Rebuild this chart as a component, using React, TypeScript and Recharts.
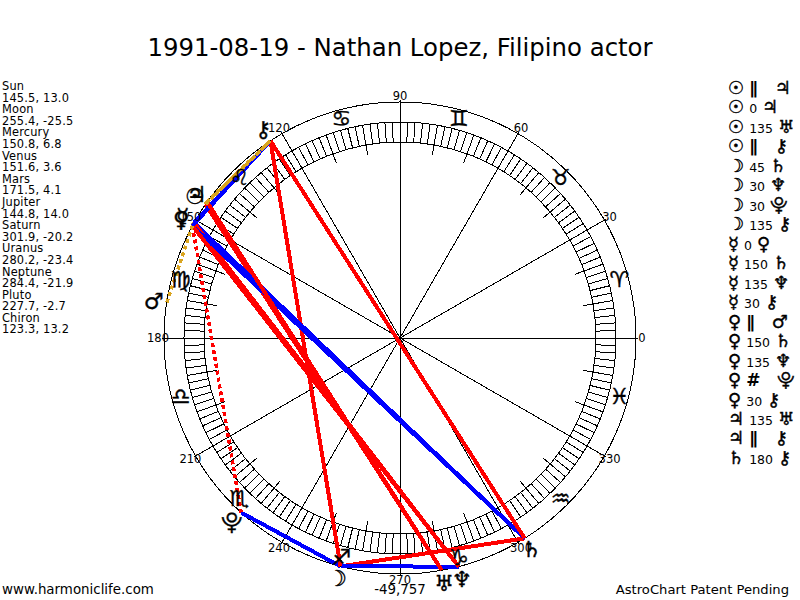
import { ScatterChart, Scatter, XAxis, YAxis, ReferenceLine, ReferenceDot } from 'recharts';

const FONT = '"DejaVu Sans", sans-serif';

const planetNames = ['Sun', 'Moon', 'Mercury', 'Venus', 'Mars', 'Jupiter', 'Saturn', 'Uranus', 'Neptune', 'Pluto', 'Chiron'];
const planetGlyphs = ['☉', '☽', '☿', '♀', '♂', '♃', '♄', '♅', '♆', '⯓', '⚷'];
const longitudes = [145.5, 255.4, 150.8, 151.6, 171.5, 144.8, 301.9, 280.2, 284.4, 227.7, 123.3];
const declinations = [13.0, -25.5, 6.8, 3.6, 4.1, 14.0, -20.2, -23.4, -21.9, -2.7, 13.2];

const zodiacGlyphs = ['♈', '♉', '♊', '♋', '♌', '♍', '♎', '♏', '♐', '♑', '♒', '♓'];
const zodiacAngles = [15, 45, 75, 105, 135, 165, 195, 225, 255, 285, 315, 345];
const spokeAngles = [0, 30, 60, 90, 120, 150, 180, 210, 240, 270, 300, 330];

// [from, aspect, to] in the order of the list on the right
const aspects: [string, string, string][] = [
  ['Sun', '∥', 'Jupiter'],
  ['Sun', '0', 'Jupiter'],
  ['Sun', '135', 'Uranus'],
  ['Sun', '∥', 'Chiron'],
  ['Moon', '45', 'Saturn'],
  ['Moon', '30', 'Neptune'],
  ['Moon', '30', 'Pluto'],
  ['Moon', '135', 'Chiron'],
  ['Mercury', '0', 'Venus'],
  ['Mercury', '150', 'Saturn'],
  ['Mercury', '135', 'Neptune'],
  ['Mercury', '30', 'Chiron'],
  ['Venus', '∥', 'Mars'],
  ['Venus', '150', 'Saturn'],
  ['Venus', '135', 'Neptune'],
  ['Venus', '#', 'Pluto'],
  ['Venus', '30', 'Chiron'],
  ['Jupiter', '135', 'Uranus'],
  ['Jupiter', '∥', 'Chiron'],
  ['Saturn', '180', 'Chiron'],
];

const R_OUTER = 236;
const R_BAND_OUT = 216;
const R_BAND_IN = 196;
const R_TICK = 186;

function polar(deg: number, r: number) {
  const a = (deg * Math.PI) / 180;
  return { x: r * Math.cos(a), y: r * Math.sin(a) };
}

function lonOf(name: string) {
  return longitudes[planetNames.indexOf(name)];
}

function glyphOf(name: string) {
  return planetGlyphs[planetNames.indexOf(name)];
}

function aspectStyle(kind: string) {
  if (kind === '∥') return { stroke: '#daa520', strokeWidth: 3.5, strokeDasharray: '4 3' };
  if (kind === '#') return { stroke: '#ff0000', strokeWidth: 3.5, strokeDasharray: '4 3' };
  if (kind === '30' || kind === '150') return { stroke: '#0000ff', strokeWidth: 4 };
  if (kind === '0') return { stroke: '#daa520', strokeWidth: 4 };
  return { stroke: '#ff0000', strokeWidth: 4 };
}

function TextMark(props: any) {
  const { cx, cy, payload } = props;
  return (
    <text
      x={cx}
      y={cy}
      textAnchor="middle"
      dominantBaseline="central"
      fontFamily={FONT}
      fontSize={payload.size}
      fill="#000"
      stroke={payload.heavy ? '#000' : 'none'}
      strokeWidth={0.4}
    >
      {payload.label}
    </text>
  );
}

const bandAngles = Array.from({ length: 180 }, (_, i) => i * 2);

const zodiacMarks = zodiacGlyphs.map((label, i) => ({ ...polar(zodiacAngles[i], 227), label, size: 22, heavy: true }));
const degreeMarks = spokeAngles.map((a) => ({ ...polar(a, 242), label: String(a), size: 11.5, heavy: false }));
const planetMarks = planetGlyphs.map((label, i) => ({ ...polar(longitudes[i], 249), label, size: 22, heavy: true }));

const solidAspects = aspects.filter((a) => a[1] !== '∥');
const parallelAspects = aspects.filter((a) => a[1] === '∥');

function AspectRow({ row, top }: { row: [string, string, string]; top: number }) {
  const [from, kind, to] = row;
  const isBar = kind === '∥' || kind === '#';
  const heavy = { fontSize: 18, WebkitTextStroke: '0.4px #000' };
  return (
    <div style={{ position: 'absolute', left: 728, top, height: 20, lineHeight: '20px', whiteSpace: 'nowrap', fontFamily: FONT }}>
      <span style={heavy}>{glyphOf(from)}</span>
      <span
        style={{
          fontSize: isBar ? 17 : 12.5,
          fontWeight: isBar ? 'bold' : 'normal',
          marginLeft: 5,
          marginRight: isBar ? 17 : 5,
        }}
      >
        {kind}
      </span>
      <span style={heavy}>{glyphOf(to)}</span>
    </div>
  );
}

function aspectSeries(list: [string, string, string][], prefix: string) {
  return list.map(([from, kind, to], i) => (
    <Scatter
      key={`${prefix}${i}`}
      data={[polar(lonOf(from), R_OUTER), polar(lonOf(to), R_OUTER)]}
      line={aspectStyle(kind)}
      shape={() => null}
      isAnimationActive={false}
    />
  ));
}

export default function App() {
  return (
    <div style={{ position: 'absolute', left: 0, top: 0, width: 800, height: 600, background: '#fff', overflow: 'hidden', fontFamily: FONT, color: '#000' }}>
      <div style={{ position: 'absolute', left: 0, top: 33, width: 800, textAlign: 'center', fontSize: 24.4, lineHeight: '30px' }}>
        1991-08-19 - Nathan Lopez, Filipino actor
      </div>

      <div style={{ position: 'absolute', left: 2, top: 81, fontSize: 11.4, letterSpacing: '0.17px', lineHeight: '11.6px', whiteSpace: 'pre' }}>
        {planetNames.map((name, i) => (
          <div key={name}>
            <div>{name}</div>
            <div>{`${longitudes[i].toFixed(1)}, ${declinations[i].toFixed(1)}`}</div>
          </div>
        ))}
      </div>

      {aspects.map((row, i) => (
        <AspectRow key={i} row={row} top={78 + i * 19.47} />
      ))}

      <div style={{ position: 'absolute', left: 2, top: 582, fontSize: 13.4, lineHeight: '16px' }}>www.harmoniclife.com</div>
      <div style={{ position: 'absolute', left: 300, width: 200, textAlign: 'center', top: 582, fontSize: 13.4, lineHeight: '16px' }}>-49,757</div>
      <div style={{ position: 'absolute', right: 11, top: 582, fontSize: 13.15, lineHeight: '16px' }}>AstroChart Patent Pending</div>

      <div style={{ position: 'absolute', left: 0, top: 0, shapeRendering: 'crispEdges' }}>
        <ScatterChart width={800} height={600} margin={{ top: 0, right: 0, bottom: 0, left: 0 }}>
          <XAxis type="number" dataKey="x" domain={[-400, 400]} hide />
          <YAxis type="number" dataKey="y" domain={[-262, 338]} hide />

          <ReferenceDot x={0} y={0} r={R_OUTER} fill="none" stroke="#000" />
          <ReferenceDot x={0} y={0} r={R_BAND_OUT} fill="none" stroke="#000" />
          <ReferenceDot x={0} y={0} r={R_BAND_IN} fill="none" stroke="#000" />

          {bandAngles.map((a) => (
            <ReferenceLine
              key={`b${a}`}
              segment={[polar(a, a % 10 === 0 ? R_TICK : R_BAND_IN), polar(a, R_BAND_OUT)]}
              stroke="#000"
            />
          ))}
          {spokeAngles.map((a) => (
            <ReferenceLine key={`s${a}`} segment={[polar(a, 0), polar(a, R_OUTER + 2)]} stroke="#000" />
          ))}

          {aspectSeries(solidAspects, 'a')}
          {aspectSeries(parallelAspects, 'p')}

          <Scatter data={zodiacMarks} shape={TextMark} isAnimationActive={false} />
          <Scatter data={degreeMarks} shape={TextMark} isAnimationActive={false} />
          <Scatter data={planetMarks} shape={TextMark} isAnimationActive={false} />
        </ScatterChart>
      </div>
    </div>
  );
}
